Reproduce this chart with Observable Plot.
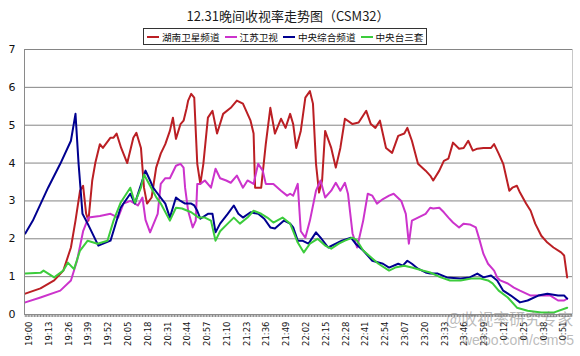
<!DOCTYPE html>
<html><head><meta charset="utf-8">
<script src="https://cdn.jsdelivr.net/npm/d3@7"></script>
<script src="https://cdn.jsdelivr.net/npm/@observablehq/plot@0.6"></script>
<style>
body{margin:0;background:#fff;}
#wrap{position:relative;width:580px;height:356px;overflow:hidden;font-family:"Noto Sans CJK SC",sans-serif;background:#fff;}
#chart{position:absolute;left:0;top:0;}
#title{position:absolute;left:0;width:576px;top:7px;text-align:center;font-size:13px;color:#1a1a1a;line-height:18px;}
#legend{position:absolute;left:143px;top:28px;height:15px;border:1px solid #333;display:flex;align-items:center;padding:0 2px 0 3px;font-size:9.6px;line-height:14px;background:#fff;color:#111;white-space:nowrap;}
#legend .it{display:flex;align-items:center;margin-right:5px;}
#legend .it:last-child{margin-right:1px;}
#legend .sw{display:inline-block;width:12px;height:2px;margin-right:3px;}
.wm{position:absolute;color:rgba(120,120,120,0.5);white-space:nowrap;}
</style></head>
<body>
<div id="wrap">
  <div id="chart"></div>
  <div id="title">12.31晚间收视率走势图（CSM32）</div>
  <div id="legend"></div>
  <div class="wm" style="left:446px;top:309px;font-size:16px;line-height:19px;">@收视率研究专家</div>
  <div class="wm" style="left:462px;top:332px;font-size:14px;line-height:16px;font-family:'Liberation Sans',sans-serif;">weibo.com/csm35</div>
</div>
<script>
// Series names and colours
const seriesNames = ["湖南卫星频道", "江苏卫视", "中央综合频道", "中央台三套"];
const seriesColors = ["#bb1f24", "#cc33cc", "#000090", "#3ccc3c"];

// X tick labels (every 13 minutes from 19:00)
const xLabels = ["19:00","19:13","19:26","19:39","19:52","20:05","20:18","20:31","20:44","20:57",
  "21:10","21:23","21:36","21:49","22:02","22:15","22:28","22:41","22:54","23:07",
  "23:20","23:33","23:46","23:59","0:12","0:25","0:38","0:51"];
const yTicks = [0,1,2,3,4,5,6,7];

// [minutes after 19:00, rating]
const hunan = [[0,0.55],[10,0.69],[19,0.9],[25,1.16],[30,1.77],[33,2.48],[36,3.27],[38,3.4],[40,2.66],[41.5,2.48],
 [44,3.54],[46,4.0],[49,4.5],[51,4.4],[56,4.67],[58,4.67],[60,4.78],[63,4.4],[67,4.0],[71,4.67],[73,4.8],[76,4.4],
 [78,3.35],[80,2.93],[83,3.09],[86,3.88],[89,4.25],[92,4.5],[95,4.85],[97,5.2],[99,4.64],[102,5.03],[104,5.12],
 [106,5.45],[107,5.65],[109,5.83],[111,5.73],[113,3.98],[115,3.45],[117,3.98],[120,5.2],[123,5.38],[126,4.78],
 [130,5.3],[135,5.46],[139,5.65],[143,5.57],[148,5.12],[150,4.78],[151,3.35],[155,3.35],[158,4.5],[161,5.46],
 [164,4.78],[168,5.17],[171,4.93],[174,5.3],[176,5.03],[178,4.4],[181,4.85],[184,5.73],[187,5.9],[189,5.57],
 [191,3.98],[193,3.22],[195,3.54],[197,4.85],[201,4.4],[204,3.88],[207,4.4],[210,5.17],[215,5.03],[219,5.07],
 [224,5.38],[227,5.03],[230,4.93],[233,5.12],[237,4.4],[241,4.27],[245,4.72],[249,4.78],[251,4.93],[254,4.59],
 [258,3.98],[263,3.8],[266,3.67],[268,3.54],[272,3.8],[275,4.06],[278,4.12],[281,4.54],[285,4.38],[288,4.4],
 [291,4.59],[294,4.33],[297,4.38],[301,4.4],[306,4.4],[308,4.5],[311,4.25],[314,3.98],[318,3.27],[320,3.35],
 [323,3.4],[325,3.22],[329,2.93],[332,2.74],[335,2.4],[339,2.08],[343,1.9],[347,1.77],[352,1.64],[354,1.56],[356,0.98]];

const jiangsu = [[0,0.32],[10,0.45],[23,0.63],[30,0.9],[34,1.42],[38,2.2],[41.5,2.56],[49,2.6],[56,2.66],[61,2.56],
 [64.5,2.93],[69,3.0],[74,2.88],[77,3.09],[79,2.5],[82,2.17],[87,2.66],[89,3.45],[92,3.6],[95,3.6],[99,3.93],
 [102,3.98],[104,3.88],[105,3.35],[107,2.74],[110,2.3],[112,2.48],[113,3.45],[115,3.45],[118,3.54],[122,3.35],
 [125,3.85],[128,3.6],[132,3.54],[135,3.48],[139,3.67],[143,3.35],[146,3.54],[150,3.45],[153,3.98],[156,3.8],
 [158,3.45],[163,3.45],[168,3.27],[172,3.14],[174,3.19],[176,3.14],[179,3.45],[181,2.2],[184,2.03],[187,2.48],
 [191,3.27],[194,3.54],[197,3.09],[201,3.27],[204,3.48],[207,3.27],[210,3.48],[212,3.19],[215,2.14],[218,1.77],
 [222,2.48],[225,3.19],[228,3.14],[231,2.93],[235,3.05],[239,3.14],[242,3.19],[247,3.0],[250,2.66],[252,1.87],
 [254,2.48],[258,2.56],[263,2.66],[266,2.82],[268,2.8],[272,2.82],[275,2.7],[278,2.56],[281,2.43],[285,2.3],
 [288,2.4],[292,2.38],[296,2.3],[298,2.03],[301,1.6],[304,1.34],[308,1.16],[310,0.98],[312,0.9],[317,0.82],
 [321,0.71],[325,0.63],[332,0.5],[339,0.5],[345,0.5],[350,0.37],[354,0.37],[356,0.42]];

const cctv1 = [[0,2.14],[5,2.48],[15,3.35],[23,3.98],[30,4.59],[33,5.3],[35,4.0],[37.6,2.66],[41,2.4],[48,1.82],
 [56,1.95],[62.6,2.82],[69,3.19],[72,2.93],[79,3.8],[82,3.54],[84,3.35],[87,3.19],[92,2.93],[95,2.56],[99,3.09],
 [102,3.0],[105,2.93],[109,2.93],[111,2.88],[113,2.74],[115,2.53],[120,2.66],[123,2.66],[125,2.17],[128,2.4],
 [133,2.66],[137,2.88],[140,2.66],[143,2.56],[148,2.7],[153,2.66],[157,2.53],[161,2.3],[164,2.27],[170,2.48],
 [174,2.4],[176,2.3],[179,1.95],[182,1.95],[186,1.87],[191,2.17],[194,2.03],[199,1.77],[204,1.87],[208,1.95],
 [214,2.03],[217,1.87],[222,1.69],[228,1.42],[235,1.34],[239,1.24],[245,1.34],[248,1.29],[251,1.42],[254,1.34],
 [258,1.21],[263,1.11],[266,1.08],[271,1.08],[277,0.98],[286,0.95],[292,0.98],[297,1.08],[301,0.98],[306,1.03],
 [310,0.9],[314,0.63],[319,0.5],[325,0.32],[330,0.37],[337,0.5],[343,0.55],[350,0.5],[354,0.5],[356,0.42]];

const cctv3 = [[0,1.08],[10,1.1],[12,1.16],[19,0.98],[25,1.16],[28,1.37],[32,1.2],[36,1.69],[41,1.95],[47.5,1.87],
 [54,1.95],[58,2.48],[62.6,2.95],[69,3.35],[72,2.95],[76,3.35],[78,3.7],[82,3.4],[86,3.1],[89,2.93],[95,2.48],
 [99,2.82],[103,2.8],[109,2.7],[114,2.56],[118,2.56],[122,2.48],[125,1.95],[128,2.2],[133,2.4],[137,2.56],
 [141,2.4],[146,2.56],[150,2.74],[155,2.66],[159,2.56],[163,2.43],[169,2.56],[174,2.4],[176,2.2],[179,1.9],
 [183,1.64],[187,1.87],[192,2.0],[197,1.82],[201,1.74],[206,1.87],[210,1.95],[215,2.03],[218,1.95],[222,1.69],
 [228,1.48],[232,1.34],[239,1.16],[243,1.24],[249,1.29],[254,1.24],[261,1.16],[266,1.11],[273,0.98],[279,0.9],
 [286,0.9],[293,0.95],[299,0.95],[304,0.9],[307,0.82],[311,0.63],[317,0.45],[323,0.18],[330,0.1],[339,0.05],
 [347,0.05],[356,0.18]];

const seriesData = [hunan, jiangsu, cctv1, cctv3];
const rows = seriesData.flatMap((s, i) => s.map(([m, v]) => ({series: seriesNames[i], m, v})));

// legend
const leg = document.getElementById("legend");
seriesNames.forEach((n, i) => {
  const it = document.createElement("span"); it.className = "it";
  it.innerHTML = `<span class="sw" style="background:${seriesColors[i]}"></span>${n}`;
  leg.appendChild(it);
});

const minuteTicks = d3.range(0, 360);
const labelTicks = xLabels.map((_, i) => i * 13);

const chart = Plot.plot({
  width: 580, height: 356,
  marginLeft: 24, marginRight: 8, marginTop: 49, marginBottom: 42,
  style: {background: "transparent", fontFamily: "'DejaVu Sans', sans-serif", color: "#111"},
  x: {type: "linear", domain: [-0.5, 359.5], label: null},
  y: {domain: [0, 7], label: null},
  color: {domain: seriesNames, range: seriesColors},
  marks: [
    Plot.gridY(yTicks.slice(1), {stroke: "#858585", strokeOpacity: 1, strokeWidth: 1}),
    Plot.ruleX([359.5], {stroke: "#c8c8c8"}),
    Plot.axisY(yTicks, {tickSize: 0, tickPadding: 9, fontSize: 11, tickFormat: d => String(d), label: null}),
    Plot.axisX(minuteTicks, {tickSize: 3, tickFormat: () => "", stroke: "#8a8a8a", label: null}),
    Plot.axisX(labelTicks, {tickSize: 0, tickPadding: 7, tickRotate: -90, fontSize: 8.5, dx: 4,
      fontFamily: "'DejaVu Sans', sans-serif", tickFormat: (d, i) => xLabels[i], label: null}),
    Plot.line(rows, {x: "m", y: "v", z: "series", stroke: "series", strokeWidth: 2, strokeLinejoin: "round"}),
    Plot.ruleX([-0.5], {stroke: "#8a8a8a"}),
    Plot.ruleY([0], {stroke: "#8a8a8a"})
  ]
});
document.getElementById("chart").appendChild(chart);
</script>
</body></html>
